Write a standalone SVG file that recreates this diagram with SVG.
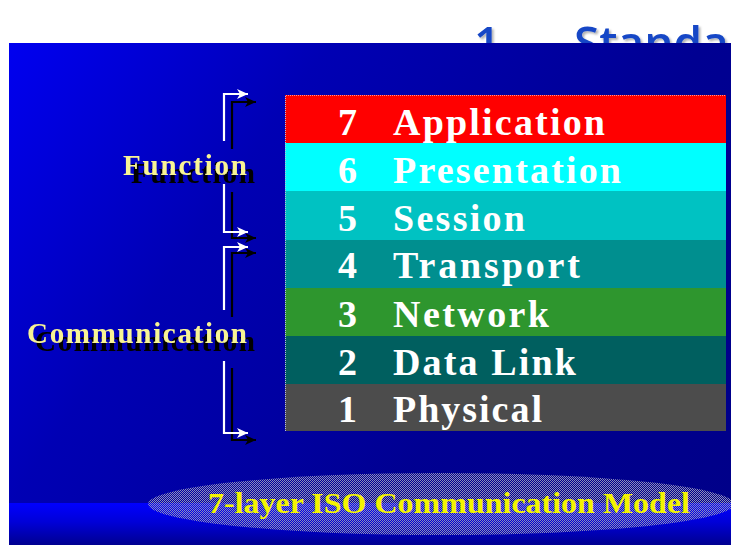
<svg xmlns="http://www.w3.org/2000/svg" width="731" height="545" viewBox="0 0 731 545">
  <defs>
    <linearGradient id="panelFill" gradientUnits="userSpaceOnUse" x1="9" y1="43" x2="731" y2="545">
      <stop offset="0" stop-color="#0000F0"/>
      <stop offset="0.3" stop-color="#0000B4"/>
      <stop offset="0.65" stop-color="#000092"/>
      <stop offset="1" stop-color="#000088"/>
    </linearGradient>
    <linearGradient id="bandFill" x1="0" y1="0" x2="0" y2="1">
      <stop offset="0" stop-color="#0000FF"/>
      <stop offset="0.45" stop-color="#0000D8"/>
      <stop offset="1" stop-color="#000090"/>
    </linearGradient>
    <pattern id="dither" width="2" height="2" patternUnits="userSpaceOnUse">
      <rect x="0" y="0" width="1" height="1" fill="#8E8EB8"/>
      <rect x="1" y="1" width="1" height="1" fill="#8E8EB8"/>
    </pattern>
    <filter id="soft" x="-10%" y="-30%" width="130%" height="160%">
      <feDropShadow dx="2" dy="2" stdDeviation="1.2" flood-color="#000000" flood-opacity="0.3"/>
    </filter>
    <filter id="hardShadow" x="-10%" y="-30%" width="130%" height="180%">
      <feOffset in="SourceAlpha" dx="8" dy="8" result="off"/>
      <feMerge>
        <feMergeNode in="off"/>
        <feMergeNode in="SourceGraphic"/>
      </feMerge>
    </filter>
    <marker id="headWhite" markerUnits="userSpaceOnUse" markerWidth="14" markerHeight="12" viewBox="-12 -6 14 12" refX="0" refY="0" orient="auto">
      <path d="M-11,-5 L0,0 L-11,5 L-8,0 Z" fill="#FFFFFF"/>
    </marker>
    <marker id="headBlack" markerUnits="userSpaceOnUse" markerWidth="14" markerHeight="12" viewBox="-12 -6 14 12" refX="0" refY="0" orient="auto">
      <path d="M-11,-5 L0,0 L-11,5 L-8,0 Z" fill="#000000"/>
    </marker>
    <style>
      .title { font-family: "Open Sans", "Liberation Sans", sans-serif; font-size: 46px; font-weight: 600; fill: #1446C6; }
      .layerText { font-family: "Liberation Serif", serif; font-weight: bold; font-size: 38px; fill: #FFFFFF; }
      .label { font-family: "Liberation Serif", serif; font-weight: bold; font-size: 29px; fill: #F8F494; }
      .caption { font-family: "Liberation Serif", serif; font-weight: bold; font-size: 30px; fill: #F4F400; }
      .wire { fill: none; stroke-width: 2.2; }
      .wireWhite { stroke: #FFFFFF; marker-end: url(#headWhite); }
      .wireBlack { stroke: #000000; marker-end: url(#headBlack); }
    </style>
  </defs>

  <!-- heading, partly covered by the slide panel -->
  <g id="heading" filter="url(#soft)">
    <text class="title" x="474" y="59">1.</text>
    <text class="title" x="574" y="59">Standa</text>
  </g>

  <!-- slide panel -->
  <g id="panel">
    <rect x="9" y="43" width="722" height="502" fill="url(#panelFill)"/>
    <rect x="9" y="503" width="722" height="42" fill="url(#bandFill)"/>
  </g>

  <!-- layer stack -->
  <g id="layer7">
    <rect x="285" y="95" width="441" height="48" fill="#FF0000"/>
    <text class="layerText" x="338" y="135">7</text>
    <text class="layerText" x="393" y="135" textLength="212" lengthAdjust="spacing">Application</text>
  </g>
  <g id="layer6">
    <rect x="285" y="143" width="441" height="48" fill="#00FFFF"/>
    <text class="layerText" x="338" y="183">6</text>
    <text class="layerText" x="393" y="183" textLength="228" lengthAdjust="spacing">Presentation</text>
  </g>
  <g id="layer5">
    <rect x="285" y="191" width="441" height="49" fill="#00C2C2"/>
    <text class="layerText" x="338" y="231">5</text>
    <text class="layerText" x="393" y="231" textLength="132" lengthAdjust="spacing">Session</text>
  </g>
  <g id="layer4">
    <rect x="285" y="240" width="441" height="48" fill="#008F8F"/>
    <text class="layerText" x="338" y="278">4</text>
    <text class="layerText" x="393" y="278" textLength="187" lengthAdjust="spacing">Transport</text>
  </g>
  <g id="layer3">
    <rect x="285" y="288" width="441" height="48" fill="#2E962E"/>
    <text class="layerText" x="338" y="327">3</text>
    <text class="layerText" x="393" y="327" textLength="156" lengthAdjust="spacing">Network</text>
  </g>
  <g id="layer2">
    <rect x="285" y="336" width="441" height="48" fill="#005F5F"/>
    <text class="layerText" x="338" y="375">2</text>
    <text class="layerText" x="393" y="375" textLength="183" lengthAdjust="spacing">Data Link</text>
  </g>
  <g id="layer1">
    <rect x="285" y="384" width="441" height="47" fill="#4C4C4C"/>
    <text class="layerText" x="338" y="422">1</text>
    <text class="layerText" x="393" y="422" textLength="149" lengthAdjust="spacing">Physical</text>
  </g>
  <!-- dotted stack edge -->
  <path d="M285.5,96 V431" stroke="#B8B8E0" stroke-width="1" stroke-dasharray="1 1"/>
  <path d="M286,95.5 H726" stroke="#FF9090" stroke-width="1" stroke-dasharray="1 1"/>

  <!-- bracket connectors: white stroke with black drop shadow -->
  <g id="connectors">
    <polyline class="wire wireBlack" points="232,149 232,102 256,102"/>
    <polyline class="wire wireBlack" points="232,192 232,238 256,238"/>
    <polyline class="wire wireBlack" points="232,317 232,253 256,253"/>
    <polyline class="wire wireBlack" points="232,368 232,440 256,440"/>
    <polyline class="wire wireWhite" points="224,141 224,94 248,94"/>
    <polyline class="wire wireWhite" points="224,184 224,232 248,232"/>
    <polyline class="wire wireWhite" points="224,310 224,247 248,247"/>
    <polyline class="wire wireWhite" points="224,361 224,433 248,433"/>
  </g>

  <g id="functionLabel" filter="url(#hardShadow)">
    <text class="label" x="123" y="175" textLength="124" lengthAdjust="spacing">Function</text>
  </g>
  <g id="communicationLabel" filter="url(#hardShadow)">
    <text class="label" x="27" y="343" textLength="220" lengthAdjust="spacing">Communication</text>
  </g>

  <!-- caption plate -->
  <g id="caption">
    <ellipse cx="441" cy="504" rx="293" ry="31" fill="url(#dither)"/>
    <text class="caption" x="208" y="513" textLength="482" lengthAdjust="spacingAndGlyphs">7-layer ISO Communication Model</text>
  </g>
</svg>
